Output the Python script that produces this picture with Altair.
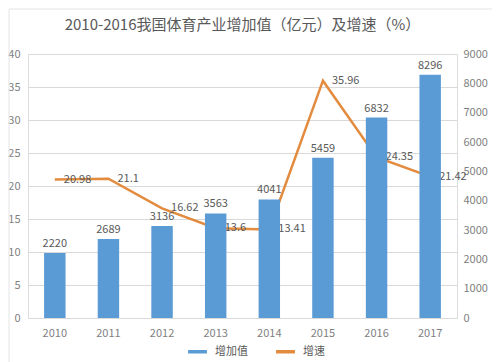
import altair as alt
import pandas as pd

years = ["2010", "2011", "2012", "2013", "2014", "2015", "2016", "2017"]
added_value = [2220, 2689, 3136, 3563, 4041, 5459, 6832, 8296]
growth = [20.98, 21.1, 16.62, 13.6, 13.41, 35.96, 24.35, 21.42]
series_names = ["增加值", "增速"]
colors = ["#5B9BD5", "#E38B3E"]
left_ticks = [0, 5, 10, 15, 20, 25, 30, 35, 40]
right_ticks = [0, 1000, 2000, 3000, 4000, 5000, 6000, 7000, 8000, 9000]

df = pd.DataFrame({"year": years, "value": added_value, "growth": growth})

FONT = "Noto Sans CJK SC"
LABEL = "#7f7f7f"

x_enc = alt.X(
    "year:N",
    sort=years,
    title=None,
    scale=alt.Scale(paddingInner=0.6, paddingOuter=0.3),
    axis=alt.Axis(labelAngle=0, ticks=False, domain=False, labelColor=LABEL,
                  labelFontSize=11, labelPadding=9, labelFont=FONT),
)

color_scale = alt.Scale(domain=series_names, range=colors)
legend = alt.Legend(
    title=None, orient="none", direction="horizontal", legendX=160, legendY=288,
    symbolType="M-1,-0.12L1,-0.12L1,0.12L-1,0.12Z", symbolSize=300,
    labelColor="#595959", labelFontSize=11, labelFont=FONT, columnPadding=25,
    labelOffset=8,
)

right_axis = alt.Axis(orient="right", values=right_ticks, grid=False, ticks=False,
                      domain=False, labelColor=LABEL, labelFontSize=11, format="d",
                      labelFont=FONT, labelPadding=6)
left_axis = alt.Axis(orient="left", values=left_ticks, grid=True, gridColor="#d9d9d9",
                     ticks=False, domain=False, labelColor=LABEL, labelFontSize=11,
                     labelFont=FONT, labelPadding=8)

base = alt.Chart(df).encode(x=x_enc)

bars = base.mark_bar().encode(
    y=alt.Y("value:Q", title=None, scale=alt.Scale(domain=[0, 9000], nice=False),
            axis=right_axis),
    color=alt.Color("s:N", scale=color_scale, legend=legend),
).transform_calculate(s="'增加值'")

bar_text = base.mark_text(dy=-9, color="#595959", fontSize=11, font=FONT).encode(
    y=alt.Y("value:Q", title=None, scale=alt.Scale(domain=[0, 9000], nice=False),
            axis=right_axis),
    text=alt.Text("value:Q"),
)

bar_layer = alt.layer(bars, bar_text)

line = base.mark_line(strokeWidth=2.5).encode(
    y=alt.Y("growth:Q", title=None, scale=alt.Scale(domain=[0, 40], nice=False),
            axis=left_axis),
    color=alt.Color("s:N", scale=color_scale, legend=legend),
).transform_calculate(s="'增速'")

line_text = base.mark_text(align="left", baseline="middle", dx=9, color="#595959",
                           fontSize=11, font=FONT).encode(
    y=alt.Y("growth:Q", title=None, scale=alt.Scale(domain=[0, 40], nice=False),
            axis=left_axis),
    text=alt.Text("growth:Q"),
)

line_layer = alt.layer(line, line_text)

frame = alt.Chart(pd.DataFrame({"f": [0]})).mark_rect(
    fill="transparent", stroke="#e4e4e4", strokeWidth=1
).encode(x=alt.value(-19), x2=alt.value(466), y=alt.value(-45), y2=alt.value(330))

chart = alt.layer(frame, line_layer, bar_layer).resolve_scale(y="independent").properties(
    width=429,
    height=264,
    autosize=alt.AutoSizeParams(type="none"),
    padding={"left": 20, "top": 46, "right": 35, "bottom": 44},
    title=alt.Title("2010-2016我国体育产业增加值（亿元）及增速（%）", fontSize=15,
                    font=FONT, color="#595959", fontWeight="normal", offset=14,
                    dy=38, anchor="middle"),
).configure_view(stroke=None).configure(background="white")

chart.save("out.html", embed_options={"renderer": "svg", "actions": False})
